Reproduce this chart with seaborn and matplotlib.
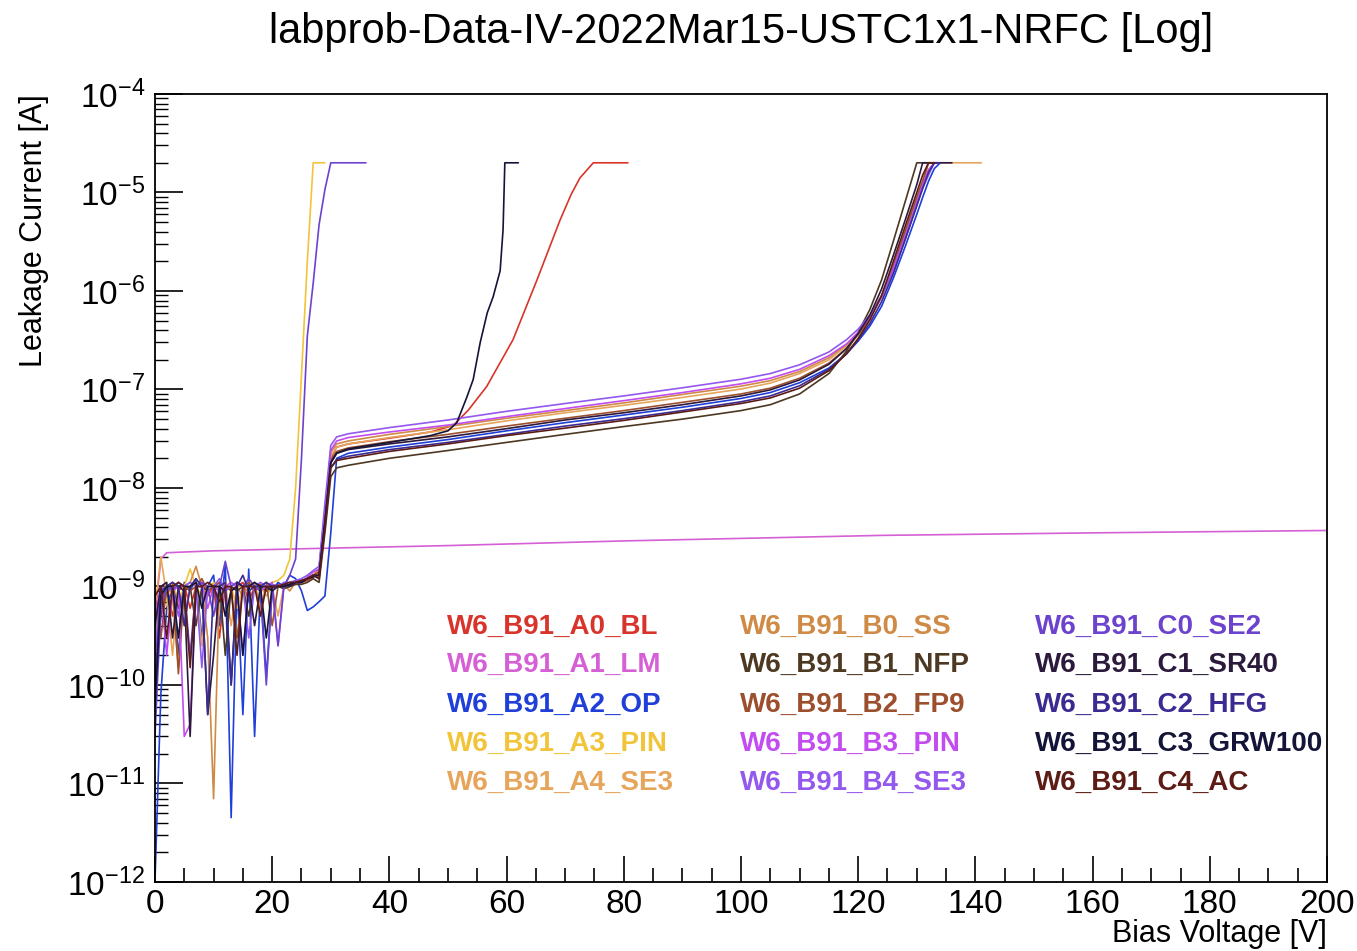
import numpy as np
import pandas as pd
import seaborn as sns
import matplotlib.pyplot as plt
import matplotlib.ticker as mticker

nan = float("nan")

# device names and colours (legend order: column A, column B, column C)
names = ["W6_B91_A0_BL", "W6_B91_A1_LM", "W6_B91_A2_OP", "W6_B91_A3_PIN", "W6_B91_A4_SE3",
         "W6_B91_B0_SS", "W6_B91_B1_NFP", "W6_B91_B2_FP9", "W6_B91_B3_PIN", "W6_B91_B4_SE3",
         "W6_B91_C0_SE2", "W6_B91_C1_SR40", "W6_B91_C2_HFG", "W6_B91_C3_GRW100", "W6_B91_C4_AC"]
colors = ["#d9342b", "#d55fd5", "#1f3fd8", "#f2c43a", "#e6a55a",
          "#cf8a45", "#4d3822", "#9c4f2c", "#c24cf0", "#9358ee",
          "#6b43cf", "#2c1a3c", "#3b2a92", "#141438", "#5c1c15"]

# low-voltage (noisy) part, 1 V steps
V_LOW = [0, 1, 2, 3, 4, 5, 6, 7, 8, 9, 10, 11, 12, 13,
         14, 15, 16, 17, 18, 19, 20, 21, 22, 23, 24, 25, 26, 27]
low_A0 = [2e-10, 7e-10, 1.0e-9, 5e-10, 9e-10, 1.05e-9, 6e-10, 1.0e-9, 1.1e-9, 8e-10, 1.0e-9, 3e-10, 1.0e-9, 9.5e-10,
          1.0e-9, 1.1e-9, 7e-10, 1.0e-9, 1.05e-9, 9e-10, 1.0e-9, 1.05e-9, 1.0e-9, 1.05e-9, 1.05e-9, 1.1e-9, 1.15e-9, 1.25e-9]
low_A2 = [1e-12, 8e-11, 6e-10, 1.0e-9, 2e-10, 1.1e-9, 9e-10, 1.2e-9, 3e-10, 1.0e-9, 1.3e-9, 4e-10, 1.7e-9, 4.5e-12,
          1.1e-9, 5e-11, 1.5e-9, 3e-11, 1.0e-9, 1.2e-10, 9e-10, 1.1e-9, 1.0e-9, 1.3e-9, 1.2e-9, 9e-10, 5.7e-10, 6.2e-10]
low_A3 = [4e-10, 9e-10, 1.0e-9, 1.1e-9, 7e-10, 1.0e-9, 1.5e-9, 1.0e-9, 8e-10, 1.0e-9, 1.1e-9, 9e-10, 1.0e-9, 1.0e-9,
          6e-10, 1.0e-9, 1.1e-9, 1.0e-9, 9e-10, 1.0e-9, 1.1e-9, 1.15e-9, 1.3e-9, 1.9e-9, 1.9e-9, 1.9e-9, 1.9e-9, 1.9e-9]
low_A4 = [6e-10, 2.0e-9, 8e-10, 2e-10, 1.0e-9, 4e-10, 1.0e-9, 1.1e-9, 2.5e-10, 1.0e-9, 1.05e-9, 9e-10, 1.1e-9, 4e-10,
          1.0e-9, 1.0e-9, 1.1e-9, 9e-10, 1.0e-9, 8e-10, 1.0e-9, 5e-10, 1.0e-9, 1.0e-9, 1.1e-9, 1.1e-9, 1.2e-9, 1.3e-9]
low_B0 = [3e-10, 9e-10, 1.0e-9, 8e-10, 1.5e-10, 1.0e-9, 1.1e-9, 1.6e-9, 1.0e-9, 3e-10, 7e-12, 1.0e-9, 1.1e-9, 9e-10,
          1.0e-9, 8e-10, 1.0e-9, 1.1e-9, 6e-10, 1.0e-9, 1.05e-9, 1.0e-9, 1.05e-9, 9e-10, 1.1e-9, 1.15e-9, 1.2e-9, 1.3e-9]
low_B1 = [1e-10, 5e-10, 9e-10, 1.0e-9, 6e-10, 9e-10, 1.0e-9, 4e-10, 1.0e-9, 9e-10, 1.0e-9, 1.1e-9, 2e-10, 1.0e-9,
          9e-10, 1.0e-9, 5e-10, 1.0e-9, 1.0e-9, 9e-10, 1.0e-9, 1.0e-9, 9.5e-10, 1.0e-9, 1.05e-9, 1.05e-9, 1.1e-9, 1.2e-9]
low_B2 = [8e-10, 3e-10, 1.0e-9, 1.1e-9, 1.3e-10, 1.0e-9, 9e-10, 1.0e-9, 1.2e-9, 9e-10, 1.0e-9, 1.1e-9, 1.0e-9, 9e-10,
          3e-10, 1.0e-9, 1.1e-9, 9e-10, 1.0e-9, 1.1e-9, 4e-10, 1.0e-9, 1.05e-9, 1.0e-9, 1.1e-9, 1.1e-9, 1.2e-9, 1.3e-9]
low_B3 = [5e-10, 1.0e-9, 2e-10, 9e-10, 1.0e-9, 3e-11, 4e-11, 1.0e-9, 1.1e-9, 6e-10, 1.0e-9, 9e-10, 1.0e-9, 1.1e-9,
          1.0e-9, 2e-10, 1.0e-9, 1.0e-9, 9e-10, 1.0e-9, 1.1e-9, 2.5e-10, 1.0e-9, 1.05e-9, 1.1e-9, 1.1e-9, 1.25e-9, 1.4e-9]
low_B4 = [2e-10, 1.0e-9, 9e-10, 1.0e-9, 5e-10, 1.0e-9, 1.1e-9, 1.0e-9, 1.5e-10, 1.0e-9, 1.0e-9, 1.2e-9, 9e-10, 1.0e-9,
          1.1e-9, 1.0e-9, 3e-10, 1.0e-9, 1.1e-9, 1.0e-9, 1.05e-9, 1.0e-9, 1.1e-9, 1.1e-9, 1.15e-9, 1.2e-9, 1.3e-9, 1.45e-9]
low_C0 = [3e-11, 6e-10, 1.0e-9, 9e-10, 1.1e-9, 1.0e-9, 2e-10, 1.0e-9, 1.1e-9, 1.0e-9, 5e-10, 1.0e-9, 1.8e-9, 1.0e-9,
          1.1e-9, 1.0e-9, 1.2e-9, 1.0e-9, 9e-10, 1.0e-10, 1.0e-9, 2.5e-10, 1.0e-9, 1.3e-9, 1.9e-9, 1.9e-9, 1.9e-9, 1.9e-9]
low_C1 = [4e-10, 1.0e-9, 1.1e-9, 3e-10, 1.0e-9, 9e-10, 3e-11, 1.0e-9, 1.0e-9, 5e-11, 2e-10, 1.0e-9, 9e-10, 1.0e-10,
          1.1e-9, 1.0e-9, 1.0e-9, 4e-10, 1.0e-9, 1.0e-9, 9e-10, 1.0e-9, 1.05e-9, 1.0e-9, 1.1e-9, 1.1e-9, 1.2e-9, 1.3e-9]
low_C2 = [1e-10, 9e-10, 1.0e-9, 1.1e-9, 1.0e-9, 4e-10, 1.0e-9, 1.2e-9, 1.0e-9, 5e-11, 1.0e-9, 1.0e-9, 1.1e-9, 1.0e-10,
          1.0e-9, 1.3e-9, 9e-10, 1.0e-9, 1.0e-9, 1.1e-9, 1.0e-9, 1.0e-9, 1.0e-9, 1.05e-9, 1.1e-9, 1.15e-9, 1.2e-9, 1.3e-9]
low_C3 = [6e-11, 8e-10, 1.0e-9, 1.0e-9, 3e-10, 1.0e-9, 1.0e-9, 1.1e-9, 6e-10, 1.0e-9, 1.0e-9, 1.0e-9, 5e-10, 9e-10,
          1.0e-9, 2e-10, 1.0e-9, 1.1e-9, 1.0e-9, 3e-10, 1.0e-9, 1.0e-9, 1.0e-9, 1.05e-9, 1.1e-9, 1.1e-9, 1.2e-9, 1.25e-9]
low_C4 = [8e-10, 1.0e-9, 3e-10, 1.0e-9, 1.1e-9, 1.0e-9, 1.5e-10, 1.0e-9, 1.0e-9, 1.1e-9, 1.0e-9, 7e-10, 1.0e-9, 1.0e-9,
          2e-10, 1.0e-9, 1.0e-9, 1.0e-9, 5e-10, 1.0e-9, 1.0e-9, 1.0e-9, 1.05e-9, 1.1e-9, 1.1e-9, 1.15e-9, 1.2e-9, 1.3e-9]

# high-voltage part for the devices that reach ~130 V
V_HV = [28, 29, 30, 31, 33, 40, 50, 60, 70, 80, 90, 100, 105, 110,
        115, 118, 120, 122, 124, 126, 128, 130, 131, 132, 133, 134, 136, 141]
hv_A2 = [7e-10, 8e-10, 3.5e-9, 2.0e-8, 2.25e-8, 2.6e-8, 3.1e-8, 3.8e-8, 4.6e-8, 5.5e-8, 6.6e-8, 8.1e-8, 9.3e-8, 1.17e-7,
         1.65e-7, 2.3e-7, 3.1e-7, 4.4e-7, 7.0e-7, 1.35e-6, 2.8e-6, 6.0e-6, 8.9e-6, 1.3e-5, 1.75e-5, 2.0e-5, nan, nan]
hv_A4 = [1.4e-9, 5e-9, 2.1e-8, 2.6e-8, 2.8e-8, 3.25e-8, 3.9e-8, 4.8e-8, 5.8e-8, 6.9e-8, 8.3e-8, 1.01e-7, 1.16e-7, 1.45e-7,
         2.0e-7, 2.75e-7, 3.7e-7, 5.3e-7, 8.7e-7, 1.7e-6, 3.7e-6, 8.0e-6, 1.2e-5, 1.7e-5, 2.0e-5, 2.0e-5, 2.0e-5, 2.0e-5]
hv_B0 = [1.5e-9, 5.5e-9, 2.3e-8, 2.8e-8, 3.0e-8, 3.5e-8, 4.2e-8, 5.1e-8, 6.1e-8, 7.3e-8, 8.9e-8, 1.08e-7, 1.23e-7, 1.52e-7,
         2.1e-7, 2.85e-7, 3.8e-7, 5.5e-7, 9.0e-7, 1.8e-6, 4.0e-6, 8.9e-6, 1.3e-5, 2.0e-5, 2.0e-5, nan, nan, nan]
hv_B1 = [1.1e-9, 3.5e-9, 1.3e-8, 1.6e-8, 1.7e-8, 2.0e-8, 2.4e-8, 2.9e-8, 3.5e-8, 4.2e-8, 5.0e-8, 6.1e-8, 7.0e-8, 9.0e-8,
         1.45e-7, 2.45e-7, 3.8e-7, 6.5e-7, 1.3e-6, 3.2e-6, 8.0e-6, 2.0e-5, 2.0e-5, 2.0e-5, 2.0e-5, nan, nan, nan]
hv_B2 = [1.4e-9, 5e-9, 1.9e-8, 2.35e-8, 2.55e-8, 2.95e-8, 3.5e-8, 4.25e-8, 5.1e-8, 6.1e-8, 7.4e-8, 9.0e-8, 1.03e-7, 1.3e-7,
         1.85e-7, 2.6e-7, 3.6e-7, 5.3e-7, 8.9e-7, 1.8e-6, 4.0e-6, 8.9e-6, 1.3e-5, 2.0e-5, 2.0e-5, nan, nan, nan]
hv_B3 = [1.5e-9, 6e-9, 2.4e-8, 3.0e-8, 3.25e-8, 3.7e-8, 4.35e-8, 5.3e-8, 6.4e-8, 7.7e-8, 9.3e-8, 1.14e-7, 1.3e-7, 1.6e-7,
         2.2e-7, 2.9e-7, 3.8e-7, 5.4e-7, 8.7e-7, 1.7e-6, 3.6e-6, 8.0e-6, 1.2e-5, 1.7e-5, 2.0e-5, 2.0e-5, nan, nan]
hv_B4 = [1.6e-9, 7e-9, 2.7e-8, 3.3e-8, 3.55e-8, 4.1e-8, 4.9e-8, 6.0e-8, 7.2e-8, 8.6e-8, 1.04e-7, 1.27e-7, 1.45e-7, 1.78e-7,
         2.4e-7, 3.2e-7, 4.1e-7, 5.7e-7, 8.9e-7, 1.6e-6, 3.3e-6, 7.5e-6, 1.1e-5, 1.5e-5, 2.0e-5, 2.0e-5, nan, nan]
hv_C1 = [1.3e-9, 4.5e-9, 1.8e-8, 2.25e-8, 2.45e-8, 2.8e-8, 3.3e-8, 4.0e-8, 4.9e-8, 5.8e-8, 7.0e-8, 8.6e-8, 9.9e-8, 1.25e-7,
         1.8e-7, 2.6e-7, 3.7e-7, 5.7e-7, 1.05e-6, 2.3e-6, 5.2e-6, 1.2e-5, 2.0e-5, 2.0e-5, 2.0e-5, 2.0e-5, 2.0e-5, nan]
hv_C2 = [1.2e-9, 4e-9, 1.6e-8, 1.95e-8, 2.1e-8, 2.45e-8, 2.9e-8, 3.5e-8, 4.25e-8, 5.05e-8, 6.1e-8, 7.5e-8, 8.6e-8, 1.09e-7,
         1.6e-7, 2.3e-7, 3.2e-7, 4.7e-7, 7.8e-7, 1.5e-6, 3.3e-6, 7.3e-6, 1.1e-5, 1.6e-5, 2.0e-5, 2.0e-5, nan, nan]
hv_C4 = [1.2e-9, 4e-9, 1.6e-8, 1.9e-8, 2.0e-8, 2.35e-8, 2.8e-8, 3.4e-8, 4.05e-8, 4.85e-8, 5.9e-8, 7.2e-8, 8.2e-8, 1.03e-7,
         1.55e-7, 2.3e-7, 3.3e-7, 5.1e-7, 9.0e-7, 2.0e-6, 4.5e-6, 1.0e-5, 1.5e-5, 2.0e-5, 2.0e-5, nan, nan, nan]

# early breakdowns
a0_v = [28, 29, 30, 31, 33, 40, 47, 50.9, 53.5, 56.6, 61.1, 65.2, 69.1, 71, 72.5, 74.8, 80.7]
a0_i = [1.4e-9, 5e-9, 2.0e-8, 2.6e-8, 2.8e-8, 3.2e-8, 3.7e-8, 4.3e-8, 6.2e-8, 1.07e-7, 3.2e-7, 1.3e-6, 5.2e-6,
        9.5e-6, 1.4e-5, 2.0e-5, 2.0e-5]
c3_v = [28, 29, 30, 31, 33, 40, 47, 50, 51.5, 53.2, 54.3, 55.5, 56.7, 57.7, 58.9, 59.4, 59.7, 62]
c3_i = [1.3e-9, 4.5e-9, 1.8e-8, 2.25e-8, 2.5e-8, 2.9e-8, 3.4e-8, 3.8e-8, 4.6e-8, 8.3e-8, 1.26e-7, 3.0e-7, 6.0e-7,
        8.7e-7, 1.6e-6, 4.2e-6, 2.0e-5, 2.0e-5]
a3_v = [24, 25, 26, 27, 29]
a3_i = [1.0e-8, 1.4e-7, 2.0e-6, 2.0e-5, 2.0e-5]
c0_v = [25, 26, 27, 28, 29, 30, 36]
c0_i = [2.0e-8, 3.5e-7, 1.2e-6, 4.7e-6, 1.07e-5, 2.0e-5, 2.0e-5]

# flat device
a1_v = [0, 1, 2, 10, 30, 50, 80, 124, 160, 200]
a1_i = [5e-10, 1.9e-9, 2.2e-9, 2.3e-9, 2.45e-9, 2.6e-9, 2.9e-9, 3.3e-9, 3.5e-9, 3.7e-9]

pieces = {
    "W6_B91_A0_BL": (low_A0, a0_v, a0_i),
    "W6_B91_A1_LM": (None, a1_v, a1_i),
    "W6_B91_A2_OP": (low_A2, V_HV, hv_A2),
    "W6_B91_A3_PIN": (low_A3, a3_v, a3_i),
    "W6_B91_A4_SE3": (low_A4, V_HV, hv_A4),
    "W6_B91_B0_SS": (low_B0, V_HV, hv_B0),
    "W6_B91_B1_NFP": (low_B1, V_HV, hv_B1),
    "W6_B91_B2_FP9": (low_B2, V_HV, hv_B2),
    "W6_B91_B3_PIN": (low_B3, V_HV, hv_B3),
    "W6_B91_B4_SE3": (low_B4, V_HV, hv_B4),
    "W6_B91_C0_SE2": (low_C0, c0_v, c0_i),
    "W6_B91_C1_SR40": (low_C1, V_HV, hv_C1),
    "W6_B91_C2_HFG": (low_C2, V_HV, hv_C2),
    "W6_B91_C3_GRW100": (low_C3, c3_v, c3_i),
    "W6_B91_C4_AC": (low_C4, V_HV, hv_C4),
}

rows = []
for name in names:
    low, hv_v, hv_i = pieces[name]
    if low is not None:
        rows += [(name, v, i) for v, i in zip(V_LOW, low) if v < hv_v[0]]
    rows += [(name, v, i) for v, i in zip(hv_v, hv_i) if not np.isnan(i)]
df = pd.DataFrame(rows, columns=["device", "voltage", "current"])

sns.set_theme(style="ticks")
plt.rcParams["font.family"] = ["Liberation Sans", "DejaVu Sans"]
plt.rcParams["mathtext.fontset"] = "custom"
plt.rcParams["mathtext.rm"] = "Liberation Sans"
plt.rcParams["mathtext.it"] = "Liberation Sans:italic"
plt.rcParams["mathtext.bf"] = "Liberation Sans:bold"
plt.rcParams["text.color"] = "black"
plt.rcParams["axes.labelcolor"] = "black"
plt.rcParams["xtick.color"] = "black"
plt.rcParams["ytick.color"] = "black"

fig = plt.figure(figsize=(13.57, 9.51), dpi=100)
ax = fig.add_axes([0.1142, 0.0726, 0.8637, 0.8286])
ax.set_yscale("log")

palette = dict(zip(names, colors))
sns.lineplot(data=df, x="voltage", y="current", hue="device", hue_order=names,
             palette=palette, estimator=None, sort=False, legend=False,
             linewidth=1.2, ax=ax)

ax.set_xlim(0, 200)
ax.set_ylim(1e-12, 1e-4)
ax.xaxis.set_major_locator(mticker.MultipleLocator(20))
ax.xaxis.set_minor_locator(mticker.MultipleLocator(5))
ax.yaxis.set_major_locator(mticker.LogLocator(base=10, numticks=20))
ax.yaxis.set_minor_locator(mticker.LogLocator(base=10, subs=np.arange(2, 10), numticks=20))
ax.yaxis.set_minor_formatter(mticker.NullFormatter())

ax.tick_params(axis="both", which="both", direction="in", top=False, right=False,
               colors="black", labelsize=24)
ax.tick_params(axis="x", which="major", length=19, width=1.2, pad=5)
ax.tick_params(axis="x", which="minor", length=10, width=1.2)
ax.tick_params(axis="y", which="major", length=20, width=1.2, pad=7)
ax.tick_params(axis="y", which="minor", length=9, width=1.0)
for s in ax.spines.values():
    s.set_color("black")
    s.set_linewidth(1.3)

ax.set_xlabel("Bias Voltage [V]", fontsize=22, loc="right", color="black")
ax.xaxis.set_label_coords(1.0, -0.047)
ax.set_ylabel("Leakage Current [A]", fontsize=22, loc="top", color="black")
ax.yaxis.set_label_coords(-0.09, 1.0)

fig.text(0.546, 1 - 32 / 951, "labprob-Data-IV-2022Mar15-USTC1x1-NRFC [Log]",
         ha="center", va="center", fontsize=30, color="black")

# text legend, three columns
col_x = [0.249, 0.499, 0.751]
row_y = [0.3236, 0.2754, 0.2246, 0.1751, 0.1256]
for k, (name, c) in enumerate(zip(names, colors)):
    ax.text(col_x[k // 5], row_y[k % 5], name, transform=ax.transAxes,
            color=c, fontsize=20, fontweight="bold", ha="left", va="center")

fig.savefig("out.png", dpi=100)
